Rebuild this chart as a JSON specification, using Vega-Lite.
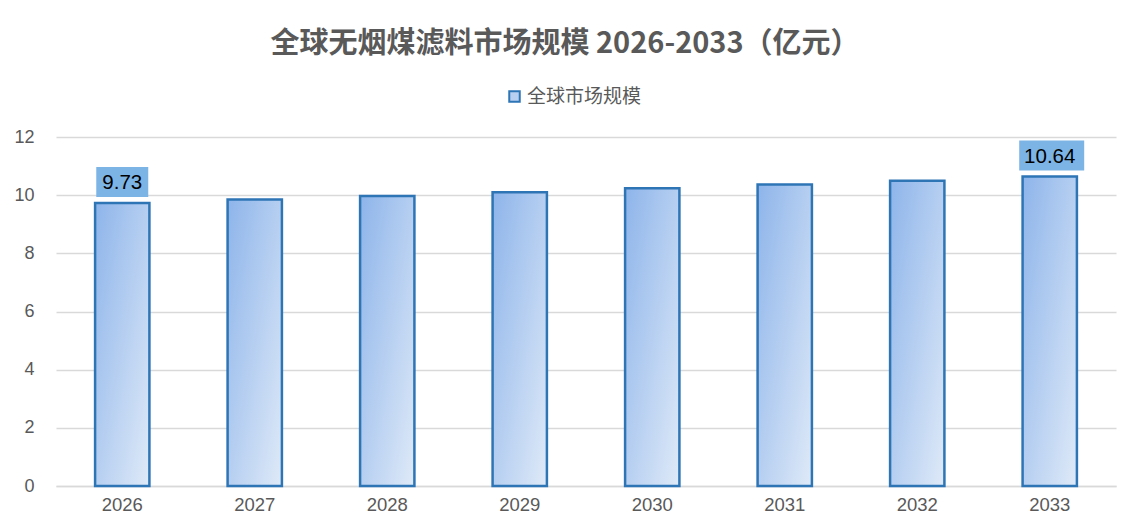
{
  "$schema": "https://vega.github.io/schema/vega-lite/v6.json",
  "width": 1060,
  "height": 349,
  "autosize": {"type": "none"},
  "padding": {"left": 56, "top": 137, "right": 23, "bottom": 46},
  "background": "white",
  "title": {
    "text": "全球无烟煤滤料市场规模 2026-2033（亿元）",
    "font": "Noto Sans CJK SC",
    "fontSize": 29,
    "fontWeight": "bold",
    "color": "#595959",
    "anchor": "middle",
    "frame": "bounds",
    "offset": 28
  },
  "data": {
    "values": [
      {"year": "2026", "value": 9.73, "series": "全球市场规模"},
      {"year": "2027", "value": 9.85, "series": "全球市场规模"},
      {"year": "2028", "value": 9.97, "series": "全球市场规模"},
      {"year": "2029", "value": 10.10, "series": "全球市场规模"},
      {"year": "2030", "value": 10.24, "series": "全球市场规模"},
      {"year": "2031", "value": 10.37, "series": "全球市场规模"},
      {"year": "2032", "value": 10.50, "series": "全球市场规模"},
      {"year": "2033", "value": 10.64, "series": "全球市场规模"}
    ]
  },
  "encoding": {
    "x": {
      "field": "year",
      "type": "nominal",
      "scale": {"paddingInner": 0.59, "paddingOuter": 0.295},
      "axis": {
        "title": null,
        "labelAngle": 0,
        "labelFontSize": 18.5,
        "labelColor": "#595959",
        "labelFont": "Liberation Sans",
        "labelPadding": 9,
        "ticks": false,
        "domainColor": "#d9d9d9",
        "domainWidth": 1.5
      }
    },
    "y": {
      "field": "value",
      "type": "quantitative",
      "scale": {"domain": [0, 12]},
      "axis": {
        "title": null,
        "values": [0, 2, 4, 6, 8, 10, 12],
        "labelOverlap": false,
        "labelFontSize": 18,
        "labelColor": "#595959",
        "labelFont": "Liberation Sans",
        "labelPadding": 22,
        "ticks": false,
        "domain": false,
        "gridColor": "#d9d9d9",
        "gridWidth": 1.5
      }
    }
  },
  "layer": [
    {
      "mark": {
        "type": "bar",
        "stroke": "#2e75b6",
        "strokeWidth": 2.5,
        "fill": {
          "gradient": "linear",
          "x1": 0, "y1": 0, "x2": 1, "y2": 1,
          "stops": [
            {"offset": 0, "color": "#8db4ea"},
            {"offset": 1, "color": "#dfeaf8"}
          ]
        }
      },
      "encoding": {
        "color": {
          "field": "series",
          "type": "nominal",
          "scale": {"range": ["#b8cff2"]},
          "legend": {
            "title": null,
            "orient": "none",
            "legendX": 449,
            "legendY": -50,
            "direction": "horizontal",
            "symbolType": "square",
            "symbolSize": 110,
            "symbolStrokeColor": "#2e75b6",
            "symbolStrokeWidth": 2,
            "symbolFillColor": "#c5d7f3",
            "labelFontSize": 19,
            "labelColor": "#595959",
            "labelFont": "Noto Sans CJK SC",
            "labelOffset": 3
          }
        }
      }
    },
    {
      "transform": [{"filter": "datum.year == '2026' || datum.year == '2033'"}],
      "mark": {"type": "point", "filled": true, "color": "#7db4e6", "opacity": 1, "yOffset": -21},
      "encoding": {
        "shape": {
          "condition": {"test": "datum.year == '2033'", "value": "M-0.94,-0.46L1.06,-0.46L1.06,0.46L-0.94,0.46Z"},
          "value": "M-1,-0.577L1,-0.577L1,0.577L-1,0.577Z"
        },
        "size": {
          "condition": {"test": "datum.year == '2033'", "value": 4225},
          "value": 2704
        }
      }
    },
    {
      "transform": [{"filter": "datum.year == '2026' || datum.year == '2033'"}],
      "mark": {"type": "text", "fontSize": 20.5, "font": "Liberation Sans", "color": "#000000", "align": "center", "baseline": "middle", "yOffset": -20},
      "encoding": {
        "text": {"field": "value", "type": "quantitative", "format": ".2f"}
      }
    }
  ],
  "config": {
    "view": {"stroke": null}
  }
}
